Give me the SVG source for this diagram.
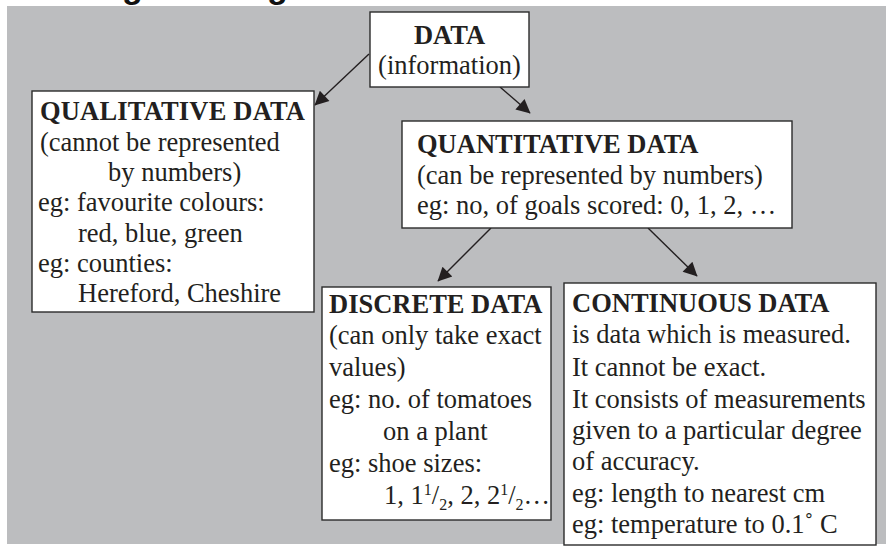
<svg xmlns="http://www.w3.org/2000/svg" width="886" height="552" viewBox="0 0 886 552">
<defs>
<style>
.box{fill:#fff;stroke:#2b2b2b;stroke-width:1.4}
.t{font-family:"Liberation Serif","Times New Roman",serif;font-size:26.5px;fill:#231f20}
.b{font-weight:bold}
.c{text-anchor:middle}
.conn{stroke:#231f20;stroke-width:1.4;fill:none;marker-end:url(#ah)}
.s{font-size:16px}
</style>
<marker id="ah" viewBox="0 0 10 10" refX="9.5" refY="5" markerUnits="userSpaceOnUse" markerWidth="16" markerHeight="14" orient="auto">
<path d="M0,0 L10,5 L0,10 z" fill="#231f20"/>
</marker>
</defs>
<rect x="0" y="0" width="886" height="552" fill="#fff"/>
<text x="122" y="-2" font-family="Liberation Sans, Arial, sans-serif" font-weight="bold" font-size="34" fill="#111">g</text>
<text x="267" y="-2" font-family="Liberation Sans, Arial, sans-serif" font-weight="bold" font-size="34" fill="#111">g</text>
<rect x="7" y="6" width="879" height="538" fill="#bcbdbf"/>

<g id="connectors">
<line class="conn" x1="369" y1="54" x2="315" y2="105"/>
<line class="conn" x1="500" y1="87" x2="530" y2="113"/>
<line class="conn" x1="491" y1="228" x2="438" y2="281"/>
<line class="conn" x1="648" y1="228" x2="697" y2="276"/>
</g>

<g id="data">
<rect class="box" x="370" y="12" width="159" height="75"/>
<text class="t b c" x="449.5" y="44" font-size="27">DATA</text>
<text class="t c" x="449.5" y="74" font-size="27">(information)</text>
</g>

<g id="qualitative">
<rect class="box" x="32" y="91" width="282" height="221"/>
<text class="t b" x="40" y="120" textLength="265">QUALITATIVE DATA</text>
<text class="t" x="40" y="151">(cannot be represented</text>
<text class="t" x="108" y="181">by numbers)</text>
<text class="t" x="38" y="211">eg: favourite colours:</text>
<text class="t" x="78" y="242">red, blue, green</text>
<text class="t" x="38" y="272">eg: counties:</text>
<text class="t" x="78" y="302">Hereford, Cheshire</text>
</g>

<g id="quantitative">
<rect class="box" x="402" y="121" width="390" height="107"/>
<text class="t b" x="417" y="153">QUANTITATIVE DATA</text>
<text class="t" x="417" y="184">(can be represented by numbers)</text>
<text class="t" x="417" y="214">eg: no, of goals scored: 0, 1, 2, …</text>
</g>

<g id="discrete">
<rect class="box" x="322" y="287" width="229" height="233"/>
<text class="t b" x="329" y="313">DISCRETE DATA</text>
<text class="t" x="329" y="344">(can only take exact</text>
<text class="t" x="329" y="376">values)</text>
<text class="t" x="329" y="408">eg: no. of tomatoes</text>
<text class="t" x="383" y="440">on a plant</text>
<text class="t" x="329" y="472">eg: shoe sizes:</text>
<text class="t" x="384" y="504">1, 1<tspan class="s" dy="-9">1</tspan><tspan dy="9">/</tspan><tspan class="s" dy="6">2</tspan><tspan dy="-6">, 2, 2</tspan><tspan class="s" dy="-9">1</tspan><tspan dy="9">/</tspan><tspan class="s" dy="6">2</tspan><tspan dy="-6">…</tspan></text>
</g>

<g id="continuous">
<rect class="box" x="564" y="283" width="312" height="262"/>
<text class="t b" x="572" y="312">CONTINUOUS DATA</text>
<text class="t" x="572" y="343">is data which is measured.</text>
<text class="t" x="572" y="376">It cannot be exact.</text>
<text class="t" x="572" y="408">It consists of measurements</text>
<text class="t" x="572" y="439">given to a particular degree</text>
<text class="t" x="572" y="470">of accuracy.</text>
<text class="t" x="572" y="502">eg: length to nearest cm</text>
<text class="t" x="572" y="533">eg: temperature to 0.1˚ C</text>
</g>
</svg>
